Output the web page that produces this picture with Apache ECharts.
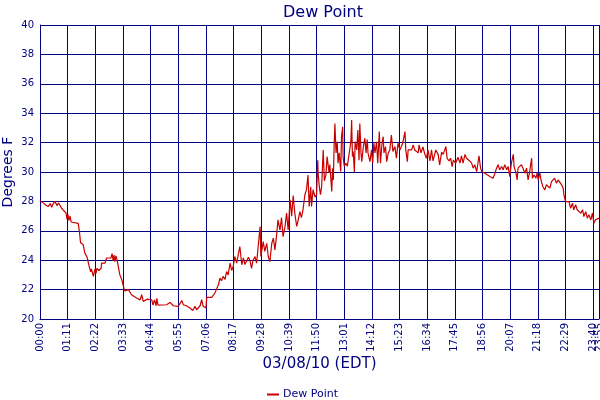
<!DOCTYPE html>
<html>
<head>
<meta charset="utf-8">
<script src="https://cdn.jsdelivr.net/npm/echarts@6/dist/echarts.min.js"></script>
<style>
	html, body { margin: 0; padding: 0; background: #fff; }
	#chart { width: 600px; height: 400px; }
</style>
</head>
<body>
<div id="chart"></div>
<script>
// minutes after midnight, 03/08/10
var times = [
	0,8,15,21,26,30,33,38,44,47, 51,55,60,67,69,72,74,77,80,84,
	98,101,104,111,115,121,127,130,132,137, 141,144,146,151,157,158,167,171,182,185,
	188,190,192,195,198,201,205,210,216,218, 227,235,248,257,261,265,275,287,290,294,
	298,300,303,308,325,334,342,355,364,368, 376,385,392,398,402,411,415,419,426,428,
	441,449,458,462,466,470,475,479,483,488, 492,496,500,505,509,513,518,522,526,530,
	535,539,543,547,552,556,560,565,567,573, 577,582,586,590,595,599,603,607,611,616,
	620,624,629,633,637,642,646,650,654,659, 663,667,671,675,680,684,688,691,695,697,
	701,706,710,713,714,717,720,723,727,730, 734,737,742,744,749,751,753,755,757,760,
	763,765,768,772,774,777,778,781,785,789, 794,798,800,802,804,807,809,813,816,819,
	821,824,826,830,834,837,840,842,847,851, 854,857,860,864,867,871,874,878,881,883,
	887,890,894,898,902,906,911,915,919,924, 931,937,939,943,945,954,958,962,971,973,
	978,983,988,992,996,1001,1005,1009,1016,1022, 1026,1031,1035,1042,1045,1050,1054,1058,1061,1067,
	1073,1078,1082,1086,1091,1095,1099,1103,1108,1112, 1116,1121,1125,1127,1131,1134,1142,1146,1155,1163,
	1168,1172,1176,1180,1185,1189,1193,1198,1202,1206, 1210,1215,1217,1221,1225,1227,1232,1236,1240,1245,
	1249,1253,1257,1262,1264,1268,1273,1276,1279,1283, 1287,1291,1296,1300,1304,1309,1313,1317,1321,1326,
	1330,1334,1339,1343,1345,1349,1353,1358,1362,1367, 1370,1375,1379,1384,1388,1393,1396,1401,1405,1409,
	1414,1418,1422,1426,1431,1435
];

// dew point, degrees F
var dewPoint = [
	28.05,27.9,27.75,27.65,27.85,27.6,27.8,28.0,27.7,27.9, 27.75,27.55,27.4,27.2,26.8,27.1,26.7,27.0,26.6,26.5,
	26.5,26.0,25.2,25.05,24.5,24.2,23.5,23.2,23.4,22.9, 23.4,23.1,23.45,23.3,23.45,23.8,23.8,24.15,24.15,24.45,
	23.95,24.35,23.9,24.3,24.0,24.0,23.0,22.67,22.04,21.9, 22.0,21.65,21.43,21.3,21.65,21.2,21.35,21.3,20.95,21.3,
	20.9,21.4,20.95,21.04,20.97,21.13,20.9,20.86,21.26,20.97, 20.9,20.75,20.58,20.86,20.63,20.9,21.31,20.86,20.75,21.47,
	21.47,21.77,22.33,22.78,22.6,22.9,22.7,23.23,23.0,23.8, 23.3,23.57,24.25,23.8,24.4,24.93,23.69,24.15,23.7,23.57,
	24.2,24.0,23.45,24.0,24.25,23.8,24.93,26.29,24.25,25.27, 24.6,25.15,24.25,23.9,25.15,25.5,24.7,25.6,26.75,26.05,
	26.9,25.6,26.3,27.2,26.05,28.1,27.0,28.4,27.2,26.3, 26.75,27.3,26.9,27.4,28.45,28.8,29.8,27.65,29.0,27.65,
	28.8,28.3,28.45,30.8,29.9,29.0,28.45,29.0,31.5,29.4, 29.8,31.05,29.95,30.5,28.67,30.25,29.46,31.73,33.3,31.3,
	32.06,30.6,31.3,30.03,32.4,33.08,31.05,30.4,30.6,30.4, 30.4,32.06,33.54,31.05,31.4,30.0,32.06,31.5,32.86,30.8,
	33.3,31.3,30.7,31.73,32.3,31.3,32.2,31.3,30.7,31.5, 30.6,31.96,31.3,32.06,30.6,32.75,30.6,31.96,32.4,31.3,
	31.73,30.7,31.3,31.5,32.52,31.4,31.73,30.94,31.96,31.5, 31.96,32.75,31.5,30.7,31.5,31.5,31.85,31.5,31.3,31.85,
	31.3,31.7,31.2,30.94,31.5,30.75,31.5,30.75,31.5,31.2, 30.48,31.35,31.2,31.73,30.94,30.75,30.94,30.37,30.8,30.6,
	31.0,30.6,31.1,30.6,31.2,30.94,31.0,30.75,30.6,30.26, 30.5,30.03,30.75,31.1,30.26,30.03,29.92,29.8,29.69,29.58,
	29.92,30.26,30.5,30.15,30.37,30.15,30.5,30.15,30.37,29.69, 30.6,31.2,30.37,30.03,29.46,30.26,30.15,30.5,30.37,29.92,
	30.26,29.46,30.03,30.94,29.58,29.8,29.58,29.92,29.46,29.92, 29.35,29.0,28.78,29.13,29.24,28.9,29.35,29.24,29.58,29.24,
	29.46,29.58,29.13,28.9,28.45,27.99,27.88,27.99,27.54,27.88, 27.43,27.77,27.43,27.54,27.2,27.43,26.97,27.3,26.86,27.1,
	26.75,27.2,26.52,26.75,26.75,26.86
];

var seriesName = 'Dew Point';
var dateLabel = '03/08/10 (EDT)';
var yLabel = 'Degrees F';
var tickStep = 71;   // minutes between time ticks
var lastTime = 1435; // 23:55

var navy = '#000080';
var lineRed = '#c80000';

function hhmm(v)
{
	var h = Math.floor(v / 60);
	var m = Math.round(v % 60);
	return (h < 10 ? '0' : '') + h + ':' + (m < 10 ? '0' : '') + m;
}

var dom = document.getElementById('chart');
var myChart = echarts.init(dom);

var data = [];
for (var i = 0; i < times.length; i++) {
	data.push([times[i], dewPoint[i]]);
}

var tickLabelStyle = {
	rotate: 90,
	margin: 4,
	color: navy,
	fontSize: 10,
	fontFamily: 'DejaVu Sans'
};

var option = {
	backgroundColor: '#fff',
	animation: false,
	textStyle: { fontFamily: 'DejaVu Sans' },
	title: {
		text: 'Dew Point',
		left: 318,
		textAlign: 'center',
		top: 0,
		textStyle: { color: navy, fontSize: 16, fontWeight: 'normal', fontFamily: 'DejaVu Sans' }
	},
	legend: {
		data: [seriesName],
		left: 262,
		top: 384,
		icon: 'rect',
		itemWidth: 12,
		itemHeight: 2,
		itemGap: 4,
		textStyle: { color: navy, fontSize: 11, fontFamily: 'DejaVu Sans', padding: [0, 0, 0, -1] }
	},
	grid: { left: 40, right: 1, top: 25, bottom: 81, containLabel: false, outerBoundsMode: 'none' },
	xAxis: [
		{
			type: 'value',
			min: 0,
			max: lastTime,
			interval: tickStep,
			name: dateLabel,
			nameLocation: 'middle',
			nameGap: 38,
			nameMoveOverlap: false,
			nameTextStyle: { color: navy, fontSize: 15, fontFamily: 'DejaVu Sans' },
			axisLine: { show: true, lineStyle: { color: navy, width: 1 } },
			axisTick: { show: false },
			axisLabel: Object.assign({ showMaxLabel: false, formatter: hhmm }, tickLabelStyle),
			splitLine: { show: true, lineStyle: { color: navy, width: 1 } }
		},
		{
			// second copy of the time axis, only for the end-of-day label
			type: 'value',
			position: 'bottom',
			min: 0,
			max: lastTime,
			interval: tickStep,
			axisLine: { show: false },
			axisTick: { show: false },
			splitLine: { show: false },
			axisLabel: Object.assign({
				showMinLabel: false,
				showMaxLabel: true,
				formatter: function (v) { return v === lastTime ? hhmm(v) : ''; }
			}, tickLabelStyle)
		}
	],
	yAxis: {
		type: 'value',
		min: 20,
		max: 40,
		interval: 2,
		name: yLabel,
		nameLocation: 'middle',
		nameGap: 25,
		nameMoveOverlap: false,
		nameTextStyle: { color: navy, fontSize: 14, fontFamily: 'DejaVu Sans' },
		axisLine: { show: true, lineStyle: { color: navy, width: 1 } },
		axisTick: { show: false },
		axisLabel: { color: navy, fontSize: 10, fontFamily: 'DejaVu Sans', margin: 6 },
		splitLine: { show: true, lineStyle: { color: navy, width: 1 } }
	},
	series: [
		{
			name: seriesName,
			type: 'line',
			data: data,
			showSymbol: false,
			symbol: 'none',
			lineStyle: { color: lineRed, width: 1.2 },
			itemStyle: { color: lineRed }
		}
	]
};

if (option && typeof option === "object") {
	myChart.setOption(option, true);
}
</script>
</body>
</html>
